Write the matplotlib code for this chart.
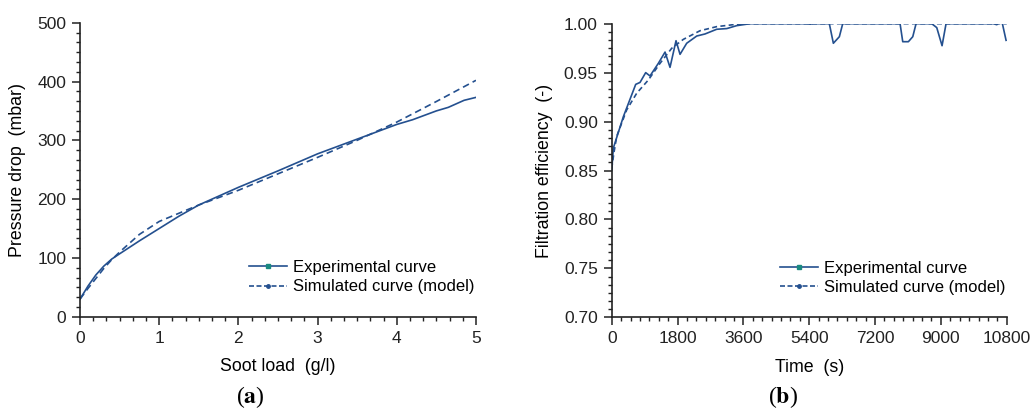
import numpy as np
import matplotlib.pyplot as plt
from matplotlib.lines import Line2D
from matplotlib.ticker import AutoMinorLocator, MultipleLocator, FormatStrFormatter

plt.rcParams['font.family'] = ['Liberation Sans', 'DejaVu Sans']
plt.rcParams['mathtext.fontset'] = 'stix'

# (a) pressure drop vs soot load
soot_exp = [0, 0.1, 0.2, 0.3, 0.4, 0.5, 0.75, 1.0, 1.25, 1.5, 1.75, 2.0, 2.5, 3.0,
            3.5, 4.0, 4.2, 4.5, 4.65, 4.85, 5.0]
dp_exp = [30, 52, 71, 86, 98, 107, 129, 150, 171, 190, 205, 220, 248, 277,
          302, 327, 335, 350, 356, 368, 373]
soot_sim = [0, 0.1, 0.2, 0.3, 0.4, 0.5, 0.75, 1.0, 1.5, 2.0, 2.5, 3.0, 3.5, 4.0, 4.5, 5.0]
dp_sim = [30, 48, 65, 82, 97, 110, 140, 162, 190, 215, 243, 271, 300, 331, 366, 402]

# (b) filtration efficiency vs time
t_exp = [0, 45, 318, 656, 774, 929, 1047, 1275, 1458, 1594, 1758, 1868, 2050, 2324,
         2551, 2870, 3144, 3417, 3781, 5350, 5424, 5500, 5950, 6060, 6224, 6316,
         7884, 7957, 8111, 8231, 8321, 8750, 8887, 9032, 9141, 10435, 10528,
         10618, 10682, 10782]
eff_exp = [0.850, 0.873, 0.905, 0.938, 0.940, 0.950, 0.9466, 0.9595, 0.971, 0.9554,
           0.9826, 0.9687, 0.980, 0.9874, 0.9895, 0.9943, 0.995, 0.998, 1.0, 1.0,
           0.9995, 1.0, 1.0, 0.980, 0.9867, 1.0, 1.0, 0.9816, 0.9816, 0.9867, 1.0,
           1.0, 0.996, 0.9775, 1.0, 1.0, 0.999, 1.0015, 1.0, 0.983]
t_sim = [0, 60, 137, 410, 684, 1002, 1321, 1641, 1959, 2414, 2871, 3418, 3780, 10800]
eff_sim = [0.852, 0.868, 0.885, 0.912, 0.929, 0.9425, 0.9595, 0.9749, 0.984, 0.9928,
           0.997, 0.9994, 1.0, 1.0]

blue = '#24508f'
teal = '#1a8a80'

fig = plt.figure(figsize=(10.3, 4.12), dpi=100)
ax1 = fig.add_axes([0.0777, 0.2313, 0.3844, 0.7136])
ax2 = fig.add_axes([0.5939, 0.2298, 0.3835, 0.7127])

ax1.plot(soot_exp, dp_exp, color=blue, lw=1.2)
ax1.plot(soot_sim, dp_sim, color=blue, lw=1.2, ls=(0, (4, 2.5)))
ax2.plot(t_exp, eff_exp, color=blue, lw=1.2)
ax2.plot(t_sim, eff_sim, color=blue, lw=1.2, ls=(0, (3, 2)))

ax1.set_xlim(0, 5)
ax1.set_ylim(0, 500)
ax1.xaxis.set_major_locator(MultipleLocator(1))
ax1.yaxis.set_major_locator(MultipleLocator(100))
ax1.xaxis.set_minor_locator(AutoMinorLocator(6))
ax1.yaxis.set_minor_locator(AutoMinorLocator(6))
ax1.set_xlabel('Soot load  (g/l)', fontsize=12.8, labelpad=9)
ax1.set_ylabel('Pressure drop  (mbar)', fontsize=12.8, labelpad=8)

ax2.set_xlim(0, 10800)
ax2.set_ylim(0.70, 1.00)
ax2.xaxis.set_major_locator(MultipleLocator(1800))
ax2.yaxis.set_major_locator(MultipleLocator(0.05))
ax2.yaxis.set_major_formatter(FormatStrFormatter('%.2f'))
ax2.xaxis.set_minor_locator(AutoMinorLocator(7))
ax2.yaxis.set_minor_locator(AutoMinorLocator(6))
ax2.set_xlabel('Time  (s)', fontsize=12.8, labelpad=9)
ax2.set_ylabel('Filtration efficiency  (-)', fontsize=12.8, labelpad=8)

handles = [
    Line2D([], [], color=blue, lw=1.2, marker='s', ms=2.5, mfc=teal, mec=teal),
    Line2D([], [], color=blue, lw=1.2, ls=(0, (3, 1.5)), marker='o', ms=2.5,
           mfc=blue, mec=blue),
]
labels = ['Experimental curve', 'Simulated curve (model)']

for ax in (ax1, ax2):
    for s in ('top', 'right'):
        ax.spines[s].set_visible(False)
    for s in ('left', 'bottom'):
        ax.spines[s].set_linewidth(1.2)
        ax.spines[s].set_color('#222222')
    ax.tick_params(which='major', direction='out', length=6, width=1.1,
                   labelsize=12.5, colors='#222222', pad=4)
    ax.tick_params(which='minor', direction='out', length=3, width=1.0,
                   colors='#222222')
    ax.legend(handles, labels, loc='lower right', bbox_to_anchor=(1.035, 0.025),
              frameon=False, fontsize=12, handlelength=2.3, handletextpad=0.35,
              labelspacing=0.25, numpoints=1)

fig.text(0.243, 0.022, r'($\mathbf{a}$)', ha='center', fontsize=17,
         family='Liberation Serif')
fig.text(0.760, 0.022, r'($\mathbf{b}$)', ha='center', fontsize=17,
         family='Liberation Serif')

fig.savefig('out.png', dpi=100)
